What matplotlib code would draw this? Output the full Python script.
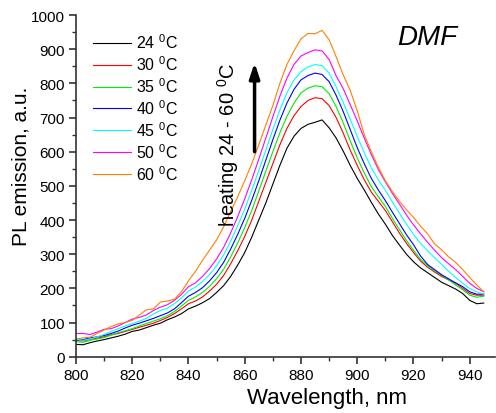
import matplotlib
matplotlib.use("Agg")
import matplotlib.pyplot as plt
import numpy as np

plt.rcParams['font.family'] = ['Liberation Sans', 'DejaVu Sans']
plt.rcParams['mathtext.fontset'] = 'custom'
plt.rcParams['mathtext.rm'] = 'Liberation Sans'
plt.rcParams['mathtext.it'] = 'Liberation Sans:italic'

wavelength = [800.0, 802.5, 805.0, 807.5, 810.0, 812.5, 815.0, 817.5, 820.0, 822.5,
              825.0, 827.5, 830.0, 832.5, 835.0, 837.5, 840.0, 842.5, 845.0, 847.5,
              850.0, 852.5, 855.0, 857.5, 860.0, 862.5, 865.0, 867.5, 870.0, 872.5,
              875.0, 877.5, 880.0, 882.5, 885.0, 887.5, 890.0, 892.5, 895.0, 897.5,
              900.0, 902.5, 905.0, 907.5, 910.0, 912.5, 915.0, 917.5, 920.0, 922.5,
              925.0, 927.5, 930.0, 932.5, 935.0, 937.5, 940.0, 942.5, 945.0]

t24 = [36, 35, 41, 46, 50, 55, 60, 66, 74, 78,
       85, 92, 98, 108, 116, 126, 140, 148, 158, 170,
       188, 208, 235, 268, 305, 350, 400, 450, 505, 560,
       610, 645, 668, 680, 686, 693, 670, 640, 602, 560,
       522, 488, 452, 418, 388, 355, 327, 300, 278, 260,
       246, 232, 218, 208, 198, 185, 165, 155, 157]
t30 = [48, 46, 50, 54, 58, 64, 68, 74, 80, 86,
       92, 98, 106, 115, 126, 140, 155, 163, 175, 192,
       212, 238, 272, 310, 352, 400, 455, 510, 565, 620,
       668, 705, 732, 750, 758, 755, 735, 700, 655, 605,
       560, 518, 482, 455, 428, 395, 362, 332, 305, 280,
       262, 248, 235, 225, 215, 200, 185, 180, 180]
t35 = [44, 42, 48, 52, 56, 63, 70, 76, 82, 90,
       97, 104, 111, 120, 132, 148, 165, 175, 188, 206,
       228, 256, 292, 333, 378, 428, 485, 543, 600, 655,
       703, 742, 772, 786, 793, 790, 770, 732, 685, 632,
       582, 538, 498, 468, 440, 405, 372, 340, 312, 285,
       266, 252, 238, 225, 210, 196, 180, 174, 177]
t40 = [47, 50, 55, 58, 62, 68, 75, 84, 92, 98,
       105, 112, 120, 128, 140, 158, 177, 188, 202, 222,
       246, 276, 315, 358, 405, 458, 515, 575, 635, 692,
       742, 782, 810, 823, 830, 826, 805, 765, 718, 665,
       612, 565, 522, 488, 457, 423, 390, 357, 328, 295,
       270, 255, 240, 228, 216, 205, 190, 183, 183]
t45 = [50, 48, 52, 58, 65, 74, 82, 90, 97, 104,
       112, 125, 135, 142, 155, 172, 192, 204, 220, 240,
       266, 298, 338, 383, 432, 487, 545, 605, 665, 722,
       772, 810, 834, 848, 855, 852, 830, 790, 745, 695,
       645, 597, 553, 518, 487, 453, 420, 388, 358, 332,
       310, 290, 270, 250, 232, 215, 200, 190, 183]
t50 = [68, 68, 65, 72, 80, 82, 90, 100, 110, 115,
       122, 135, 145, 152, 165, 182, 205, 216, 235, 258,
       286, 320, 362, 410, 462, 518, 578, 640, 702, 762,
       815, 855, 880, 890, 898, 895, 870, 822, 785, 738,
       690, 640, 592, 548, 512, 478, 447, 415, 386, 360,
       335, 312, 290, 272, 255, 235, 215, 200, 190]
t60 = [52, 55, 57, 68, 78, 88, 96, 100, 106, 122,
       137, 140, 160, 163, 168, 190, 222, 250, 282, 312,
       342, 380, 425, 468, 515, 565, 620, 678, 735, 800,
       855, 895, 930, 946, 945, 955, 928, 878, 825, 780,
       720, 650, 600, 555, 515, 483, 455, 430, 408, 382,
       360, 330, 313, 292, 276, 255, 232, 210, 190]

series = [t24, t30, t35, t40, t45, t50, t60]
labels = ['24 $^{0}$C', '30 $^{0}$C', '35 $^{0}$C', '40 $^{0}$C',
          '45 $^{0}$C', '50 $^{0}$C', '60 $^{0}$C']
colors = ['#000000', '#ff0000', '#00ee00', '#0000ff', '#00ffff', '#ff00ff', '#ff8000']

fig = plt.figure(figsize=(4.96, 4.14), dpi=100)
ax = fig.add_axes([76/496, (414-357.7)/414, (495-76)/496, (357.7-16)/414])

for y, lab, c in zip(series, labels, colors):
    ax.plot(wavelength, y, color=c, lw=0.8, label=lab)

ax.set_xlim(800, 949)
ax.set_ylim(0, 1000)
ax.set_xticks(np.arange(800, 941, 20))
ax.set_xticks(np.arange(810, 949, 10), minor=True)
ax.set_yticks(np.arange(0, 1001, 100))
ax.set_yticks(np.arange(50, 1000, 100), minor=True)
for s in ['top', 'right']:
    ax.spines[s].set_visible(False)
for s in ['left', 'bottom']:
    ax.spines[s].set_color('#333333')
    ax.spines[s].set_linewidth(1.2)
ax.tick_params(which='major', direction='out', length=5, width=1.2, color='#333333',
               labelsize=11, pad=3)
ax.tick_params(which='minor', direction='out', length=3, width=1.0, color='#333333')

fig.text(327/496, 1 - 399/414, 'Wavelength, nm', fontsize=16, ha='center', va='center')
fig.text(21/496, 1 - 246/414, 'PL emission, a.u.', fontsize=15, rotation=90,
         ha='center', va='bottom')

leg = ax.legend(loc='upper left', bbox_to_anchor=(0.025, 0.967), frameon=False,
                fontsize=11.5, handlelength=2.4, handletextpad=0.3, labelspacing=0.2,
                borderaxespad=0)

ax.text(0.838, 0.937, 'DMF', transform=ax.transAxes, fontsize=20, style='italic',
        ha='center', va='center')
ax.text(0.363, 0.622, 'heating 24 - 60 $^{0}$C', transform=ax.transAxes, rotation=90,
        fontsize=14.5, ha='center', va='center')
ax.annotate('', xy=(863.5, 860), xytext=(863.5, 600),
            arrowprops=dict(arrowstyle='-|>,head_width=0.3,head_length=0.9', lw=2.5,
                            color='black', shrinkA=0, shrinkB=0))

fig.savefig('out.png', dpi=100)
